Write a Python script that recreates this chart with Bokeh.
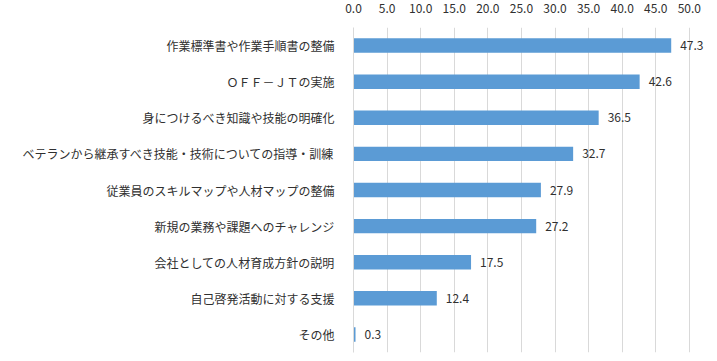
from bokeh.plotting import figure
from bokeh.models import FactorRange, Range1d, FixedTicker, PrintfTickFormatter, ColumnDataSource
from bokeh.core.properties import value
from bokeh.embed import file_html
from bokeh.resources import INLINE

categories = [
    "作業標準書や作業手順書の整備",
    "ＯＦＦ－ＪＴの実施",
    "身につけるべき知識や技能の明確化",
    "ベテランから継承すべき技能・技術についての指導・訓練",
    "従業員のスキルマップや人材マップの整備",
    "新規の業務や課題へのチャレンジ",
    "会社としての人材育成方針の説明",
    "自己啓発活動に対する支援",
    "その他",
]
values = [47.3, 42.6, 36.5, 32.7, 27.9, 27.2, 17.5, 12.4, 0.3]
ticks = [0, 5, 10, 15, 20, 25, 30, 35, 40, 45, 50]

FONT = "Noto Sans CJK JP"
TXT = "#303030"

src = ColumnDataSource(dict(cat=categories, val=values, lab=["%.1f" % v for v in values]))

p = figure(
    frame_width=356, frame_height=325,
    y_range=FactorRange(*reversed(categories), range_padding=0),
    x_range=Range1d(0, 53),
    x_axis_location="above",
    output_backend="svg", toolbar_location=None,
    min_border_left=353, min_border_right=0, min_border_top=27, min_border_bottom=1,
)
p.outline_line_color = None
p.background_fill_color = "white"

p.hbar(y="cat", right="val", left=0, height=0.4, source=src, color="#5b9bd5", line_color=None)
p.text(x="val", y="cat", text="lab", source=src, x_offset=9, text_baseline="middle",
       text_align="left", text_font=value(FONT), text_font_size="12px", text_color=TXT)

xa = p.xaxis[0]
xa.ticker = FixedTicker(ticks=ticks)
xa.formatter = PrintfTickFormatter(format="%.1f")
xa.axis_line_color = None
xa.major_tick_line_color = None
xa.minor_tick_line_color = None
xa.major_label_standoff = 9
xa.major_label_text_font = FONT
xa.major_label_text_font_size = "12px"
xa.major_label_text_color = TXT

ya = p.yaxis[0]
ya.axis_line_color = "#d9d9d9"
ya.major_tick_line_color = None
ya.minor_tick_line_color = None
ya.major_label_standoff = 13
ya.major_label_text_font = FONT
ya.major_label_text_font_size = "12px"
ya.major_label_text_color = TXT

p.xgrid.grid_line_color = "#d9d9d9"
p.xgrid.ticker = FixedTicker(ticks=ticks)
p.ygrid.grid_line_color = None

open("out.html", "w").write(file_html(p, INLINE))
